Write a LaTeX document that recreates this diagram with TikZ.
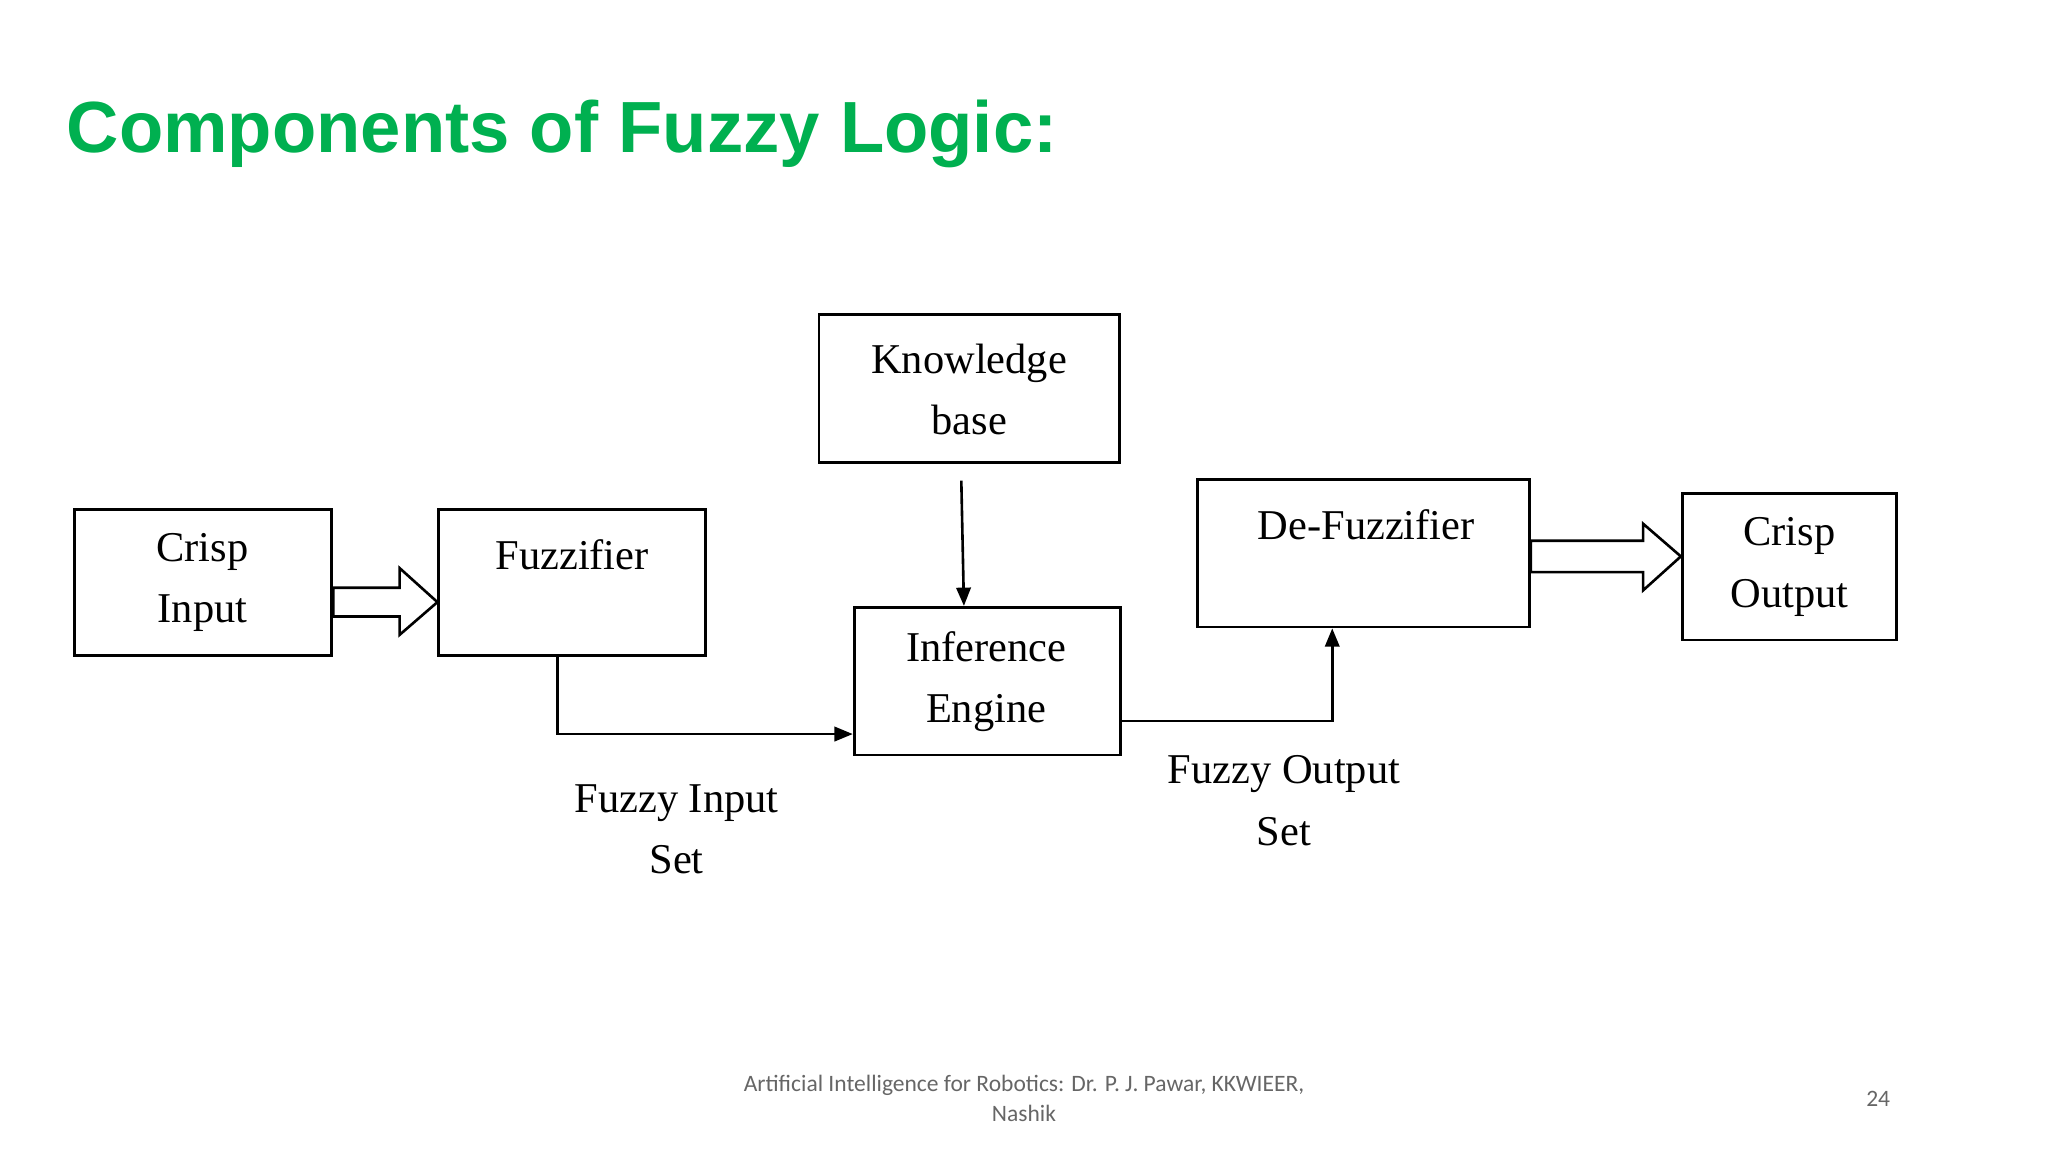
\documentclass[tikz,border=0pt]{standalone}
\usepackage{fontspec}
\setmainfont{Liberation Serif}
\newfontfamily\titlefont{Liberation Sans}
\newfontfamily\footfont{Carlito}
\usetikzlibrary{calc,arrows.meta}
\definecolor{titlegreen}{RGB}{0,176,80}
\begin{document}
\begin{tikzpicture}[x=1pt,y=-1pt,
  blk/.style={draw,line width=2.2pt,inner sep=0pt,fill=white},
  btxt/.style={font=\fontsize{32.5}{47}\selectfont,align=center},
  conn/.style={line width=2pt,-{Triangle[length=14pt,width=11pt]}},
  hollow/.style={draw,line width=2pt,fill=white,line join=miter}]
\useasboundingbox (0,0) rectangle (1568,882);
\node[anchor=base west,text=titlegreen,font=\titlefont\bfseries\fontsize{55.5}{60}\selectfont,inner sep=0pt] (title) at (51,117) {Components of Fuzzy Logic:};
% boxes
\node[blk,minimum width=197pt,minimum height=112pt] (ci) at (155.5,446) {};
\node[btxt] at (155,446) {Crisp\\Input};
\node[blk,minimum width=204pt,minimum height=112pt] (fz) at (438,446) {};
\node[btxt,anchor=center] at (438,425) {Fuzzifier};
\node[blk,minimum width=230pt,minimum height=113pt] (kb) at (742,297.5) {};
\node[btxt] at (742,298) {Knowledge\\base};
\node[blk,minimum width=204pt,minimum height=113pt] (ie) at (756,521.5) {};
\node[btxt] at (755,522) {Inference\\Engine};
\node[blk,minimum width=254pt,minimum height=113pt] (df) at (1044,423.5) {};
\node[btxt] at (1046,402) {De-Fuzzifier};
\node[blk,minimum width=164pt,minimum height=112pt] (co) at (1370,434) {};
\node[btxt] at (1370,434) {Crisp\\Output};
% hollow arrows
\draw[hollow] ($(ci.east |- 0,450)$) -- (306,450) -- (306,435) -- ($(fz.west |- 0,461)$) -- (306,486) -- (306,472) -- ($(ci.east |- 0,472)$) -- cycle;
\draw[hollow] ($(df.east |- 0,414)$) -- (1258,414) -- (1258,401) -- ($(co.west |- 0,426)$) -- (1258,452) -- (1258,438) -- ($(df.east |- 0,438)$) -- cycle;
% connectors
\coordinate (kbs) at (736,368);
\draw[conn] (kbs) -- (ie.north -| 738,0);
\draw[conn] (fz.south -| 427,0) -- (427,562) -- (ie.west |- 0,562);
\draw[conn] (ie.east |- 0,552) -- (1020,552) -- (df.south -| 1020,0);
% labels
\node[btxt] (lin) at (518,635) {Fuzzy Input\\Set};
\node[btxt] (lout) at (983,613) {Fuzzy Output\\Set};
% footer
\node[font=\footfont\fontsize{18}{23}\selectfont,text=gray!80!black,align=center] (ft) at (784,841) {Artificial Intelligence for Robotics: Dr. P. J. Pawar, KKWIEER,\\Nashik};
\node[font=\footfont\fontsize{18}{23}\selectfont,text=gray!80!black] (pg) at (1438,841) {24};
\end{tikzpicture}
\end{document}
